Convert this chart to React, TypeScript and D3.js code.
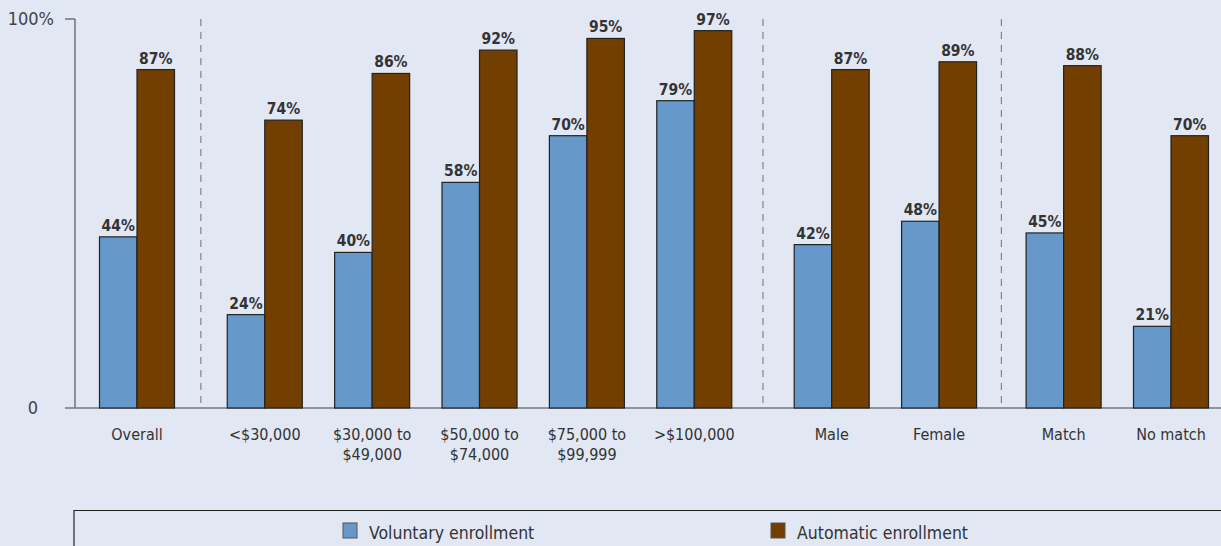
import * as d3 from 'd3'

// Chart data
const categories = ['Overall', '<$30,000', '$30,000 to\n$49,000', '$50,000 to\n$74,000', '$75,000 to\n$99,999', '>$100,000', 'Male', 'Female', 'Match', 'No match']
const groupOf = [0, 1, 1, 1, 1, 1, 2, 2, 3, 3]
const voluntary = [44, 24, 40, 58, 70, 79, 42, 48, 45, 21]
const automatic = [87, 74, 86, 92, 95, 97, 87, 89, 88, 70]
const seriesNames = ['Voluntary enrollment', 'Automatic enrollment']
const seriesColors = ['#6699c9', '#733f00']
const yTicks = [0, 100]

const W = 1221
const H = 546
const FONT = '"Liberation Sans Narrow", "DejaVu Sans Condensed", "Roboto Condensed", Arial Narrow, sans-serif'

// slot positions: one step per category, a wider step between groups
const groupGap = [0, 1.19, 1.28, 1.16]
const slots: number[] = []
categories.forEach((_, i) => {
  if (i === 0) slots.push(0)
  else slots.push(slots[i - 1] + (groupOf[i] !== groupOf[i - 1] ? groupGap[groupOf[i]] : 1))
})

export default function App() {
  const x = d3.scaleLinear().domain([0, slots[slots.length - 1]]).range([137, 1171])
  const y = d3.scaleLinear().domain([0, 100]).range([408, 19])
  const barW = 37.5

  const separators: number[] = []
  for (let i = 1; i < categories.length; i++) {
    if (groupOf[i] !== groupOf[i - 1]) separators.push((x(slots[i]) + x(slots[i - 1])) / 2)
  }

  return (
    <svg width={W} height={H} style={{ position: 'absolute', left: 0, top: 0, display: 'block' }} fontFamily={FONT}>
      <rect width={W} height={H} fill="#e1e7f3" />

      {separators.map((sx, i) => (
        <line key={i} x1={sx} x2={sx} y1={19} y2={408} stroke="#6f6f6f" strokeWidth={1} strokeDasharray="7,6" />
      ))}

      {/* axis */}
      <line x1={75} x2={75} y1={19} y2={408} stroke="#555" strokeWidth={1.2} />
      <line x1={65} x2={75} y1={y(100)} y2={y(100)} stroke="#555" strokeWidth={1.2} />
      <line x1={65} x2={W} y1={408} y2={408} stroke="#777" strokeWidth={1.5} />
      {yTicks.map(t => (
        <text key={t} x={t === 0 ? 38 : 54} y={y(t) + 6} textAnchor="end" fontSize={18} fill="#444">
          {t === 0 ? '0' : `${t}%`}
        </text>
      ))}

      {categories.map((c, i) => {
        const cx = x(slots[i])
        const vals = [voluntary[i], automatic[i]]
        return (
          <g key={c}>
            {vals.map((v, s) => {
              const bx = s === 0 ? cx - barW : cx
              return (
                <g key={s}>
                  <rect x={bx} y={y(v)} width={barW} height={408 - y(v)} fill={seriesColors[s]} stroke="#222" strokeWidth={1.2} />
                  <text x={bx + barW / 2} y={y(v) - 6} textAnchor="middle" fontSize={15.5} fontWeight="bold" fill="#333">
                    {v}%
                  </text>
                </g>
              )
            })}
            {c.split('\n').map((line, li) => (
              <text key={li} x={cx} y={440 + li * 20} textAnchor="middle" fontSize={16} fill="#333">
                {line}
              </text>
            ))}
          </g>
        )
      })}

      {/* legend */}
      <path d={`M74,${H} V510.5 H${W}`} fill="none" stroke="#222" strokeWidth={1.2} />
      {seriesNames.map((n, s) => {
        const lx = s === 0 ? 343 : 771
        return (
          <g key={n}>
            <rect x={lx} y={523} width={14} height={15} fill={seriesColors[s]} stroke="#555" strokeWidth={1} />
            <text x={lx + 26} y={539} fontSize={17.5} fill="#333">{n}</text>
          </g>
        )
      })}
    </svg>
  )
}
